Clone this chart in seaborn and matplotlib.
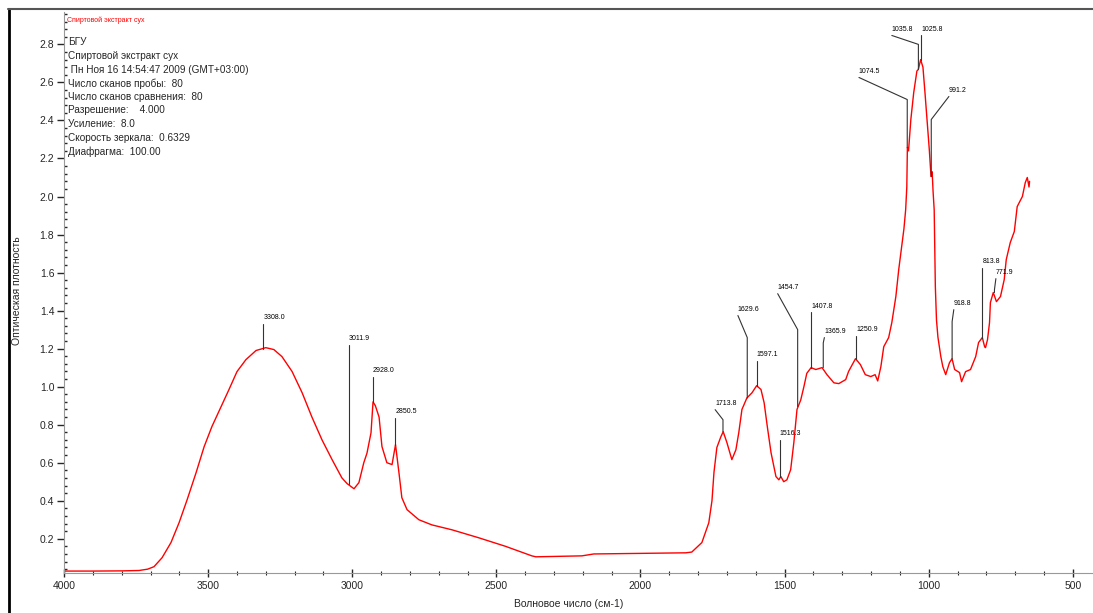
import numpy as np
import pandas as pd
import matplotlib
matplotlib.use('Agg')
import matplotlib.pyplot as plt
from matplotlib.lines import Line2D
from matplotlib.ticker import MultipleLocator, FormatStrFormatter
import seaborn as sns

sns.set_style('ticks')
plt.rcParams['font.family'] = ['Liberation Sans', 'DejaVu Sans']

# спектр
wavenumber = [4000, 3900, 3800, 3740, 3710, 3688, 3660, 3629, 3601, 3573, 3542, 3514,
              3487, 3455, 3428, 3400, 3369, 3334, 3300, 3272, 3244, 3209, 3174, 3140,
              3105, 3070, 3036, 3018, 3005, 2994, 2977, 2960, 2949, 2935, 2928, 2920,
              2907, 2897, 2880, 2862, 2850, 2838, 2828, 2810, 2769, 2724, 2654, 2561,
              2468, 2377, 2363, 2203, 2162, 1843, 1822, 1787, 1763, 1752, 1745, 1735,
              1721, 1713, 1700, 1683, 1669, 1659, 1648, 1631, 1613, 1597, 1582, 1571,
              1560, 1547, 1530, 1520, 1513, 1503, 1492, 1479, 1468, 1457, 1444, 1433,
              1423, 1408, 1392, 1370, 1353, 1329, 1312, 1288, 1278, 1254, 1237, 1220,
              1201, 1186, 1177, 1166, 1156, 1139, 1128, 1114, 1104, 1086, 1080, 1076,
              1074, 1070, 1062, 1052, 1041, 1036, 1028, 1020, 1013, 1006, 998, 992,
              988, 985, 981, 977, 973, 968, 958, 951, 941, 928, 919, 910, 893, 886,
              872, 855, 837, 827, 814, 806, 803, 796, 789, 786, 776, 765, 751, 738,
              731, 717, 703, 693, 675, 665, 658, 652, 650]
absorbance = [0.030, 0.030, 0.031, 0.033, 0.040, 0.053, 0.100, 0.180, 0.284, 0.405, 0.547, 0.684,
              0.790, 0.895, 0.984, 1.079, 1.142, 1.190, 1.205, 1.195, 1.158, 1.080, 0.968, 0.840,
              0.720, 0.616, 0.520, 0.490, 0.475, 0.463, 0.495, 0.600, 0.650, 0.757, 0.920, 0.900,
              0.840, 0.685, 0.600, 0.590, 0.695, 0.547, 0.416, 0.353, 0.300, 0.273, 0.247, 0.205,
              0.160, 0.110, 0.105, 0.110, 0.120, 0.126, 0.130, 0.180, 0.284, 0.400, 0.550, 0.680,
              0.737, 0.763, 0.705, 0.616, 0.668, 0.758, 0.880, 0.940, 0.968, 1.005, 0.985, 0.915,
              0.790, 0.652, 0.527, 0.510, 0.527, 0.500, 0.510, 0.563, 0.705, 0.880, 0.930, 1.000,
              1.070, 1.100, 1.090, 1.100, 1.063, 1.020, 1.016, 1.037, 1.080, 1.147, 1.116, 1.063,
              1.053, 1.063, 1.030, 1.105, 1.210, 1.258, 1.337, 1.474, 1.616, 1.830, 1.930, 2.050,
              2.258, 2.240, 2.405, 2.547, 2.660, 2.668, 2.720, 2.680, 2.547, 2.405, 2.247, 2.105,
              2.130, 2.030, 1.930, 1.526, 1.350, 1.260, 1.158, 1.105, 1.063, 1.126, 1.147, 1.090,
              1.074, 1.026, 1.079, 1.090, 1.158, 1.232, 1.258, 1.210, 1.205, 1.247, 1.337, 1.442,
              1.495, 1.447, 1.474, 1.563, 1.668, 1.758, 1.816, 1.947, 2.000, 2.073, 2.100, 2.050,
              2.080]

# подписи пиков
peak_labels = ['3308.0', '3011.9', '2928.0', '2850.5', '1713.8', '1629.6', '1597.1', '1516.3',
               '1454.7', '1407.8', '1365.9', '1250.9', '1074.5', '1035.8', '1025.8', '991.2',
               '918.8', '813.8', '771.9']
peak_x = [3308.0, 3011.9, 2928.0, 2850.5, 1713.8, 1629.6, 1597.1, 1516.3,
          1454.7, 1407.8, 1365.9, 1250.9, 1074.5, 1035.8, 1025.8, 991.2,
          918.8, 813.8, 771.9]
peak_y = [1.20, 0.49, 0.92, 0.695, 0.763, 0.94, 1.005, 0.527,
          0.895, 1.10, 1.10, 1.147, 2.258, 2.668, 2.72, 2.105,
          1.147, 1.258, 1.495]
# положение текста и излома выноски
text_x = [3308.0, 3011.9, 2928.0, 2850.5, 1741, 1662, 1597.1, 1516.3,
          1524, 1407.8, 1362, 1250.9, 1242, 1128, 1025.8, 930,
          913, 813.8, 767]
text_y = [1.332, 1.221, 1.053, 0.837, 0.879, 1.374, 1.137, 0.721,
          1.489, 1.390, 1.258, 1.268, 2.626, 2.847, 2.847, 2.526,
          1.405, 1.626, 1.568]
elbow_y = [1.332, 1.221, 1.053, 0.837, 0.826, 1.258, 1.137, 0.721,
           1.300, 1.390, 1.230, 1.268, 2.510, 2.800, 2.847, 2.405,
           1.342, 1.626, 1.510]

info_lines = ['БГУ',
              'Спиртовой экстракт сух',
              ' Пн Ноя 16 14:54:47 2009 (GMT+03:00)',
              'Число сканов пробы:  80',
              'Число сканов сравнения:  80',
              'Разрешение:    4.000',
              'Усиление:  8.0',
              'Скорость зеркала:  0.6329',
              'Диафрагма:  100.00']

df = pd.DataFrame({'wn': wavenumber, 'A': absorbance})

fig = plt.figure(figsize=(10.93, 6.13), dpi=100)
ax = fig.add_axes([0.0586, 0.0653, 0.9414, 0.915])

sns.lineplot(data=df, x='wn', y='A', color='red', lw=1.0, sort=False,
             estimator=None, ax=ax)

for lab, px, py, tx, ty, ey in zip(peak_labels, peak_x, peak_y, text_x, text_y, elbow_y):
    ax.plot([tx, px, px], [ty, ey, py], color='#333333', lw=0.8)
    ax.text(tx, ty + 0.012, lab, fontsize=5, ha='left', va='bottom', color='black')

ax.text(0.003, 0.992, 'Спиртовой экстракт сух', transform=ax.transAxes, fontsize=5,
        color='red', va='top', ha='left')
for i, line in enumerate(info_lines):
    ax.text(0.004, 0.955 - i * 0.0243, line, transform=ax.transAxes, fontsize=7.2,
            va='top', ha='left')

ax.set_xlim(4000, 430)
ax.set_ylim(0.02, 2.97)
ax.xaxis.set_major_locator(MultipleLocator(500))
ax.xaxis.set_minor_locator(MultipleLocator(100))
ax.yaxis.set_minor_locator(MultipleLocator(0.04))
ax.yaxis.set_major_formatter(FormatStrFormatter('%.1f'))
ax.set_yticks(np.arange(0.2, 2.81, 0.2))
ax.tick_params(axis='y', which='major', direction='out', length=5, width=1, labelsize=7.5, pad=2)
ax.tick_params(axis='y', which='minor', direction='in', length=2, width=1)
ax.tick_params(axis='x', which='major', direction='inout', length=6, width=1, labelsize=7.5, pad=3)
ax.tick_params(axis='x', which='minor', direction='inout', length=3, width=0.8)

sns.despine(ax=ax, top=True, right=True)
ax.spines['left'].set_color('#999999')
ax.spines['bottom'].set_color('#999999')

ax.set_xlabel('Волновое число (см-1)', fontsize=7.5)
ax.set_ylabel('Оптическая плотность', fontsize=7.5)
ax.xaxis.set_label_coords(0.49, -0.046)
ax.yaxis.set_label_coords(-0.041, 0.504)

# рамка окна
fig.add_artist(Line2D([0.008, 0.008], [0.0, 0.985], color='black', lw=2))
fig.add_artist(Line2D([0.007, 1.0], [0.985, 0.985], color='#555555', lw=1.5))

fig.savefig('out.png', dpi=100)
